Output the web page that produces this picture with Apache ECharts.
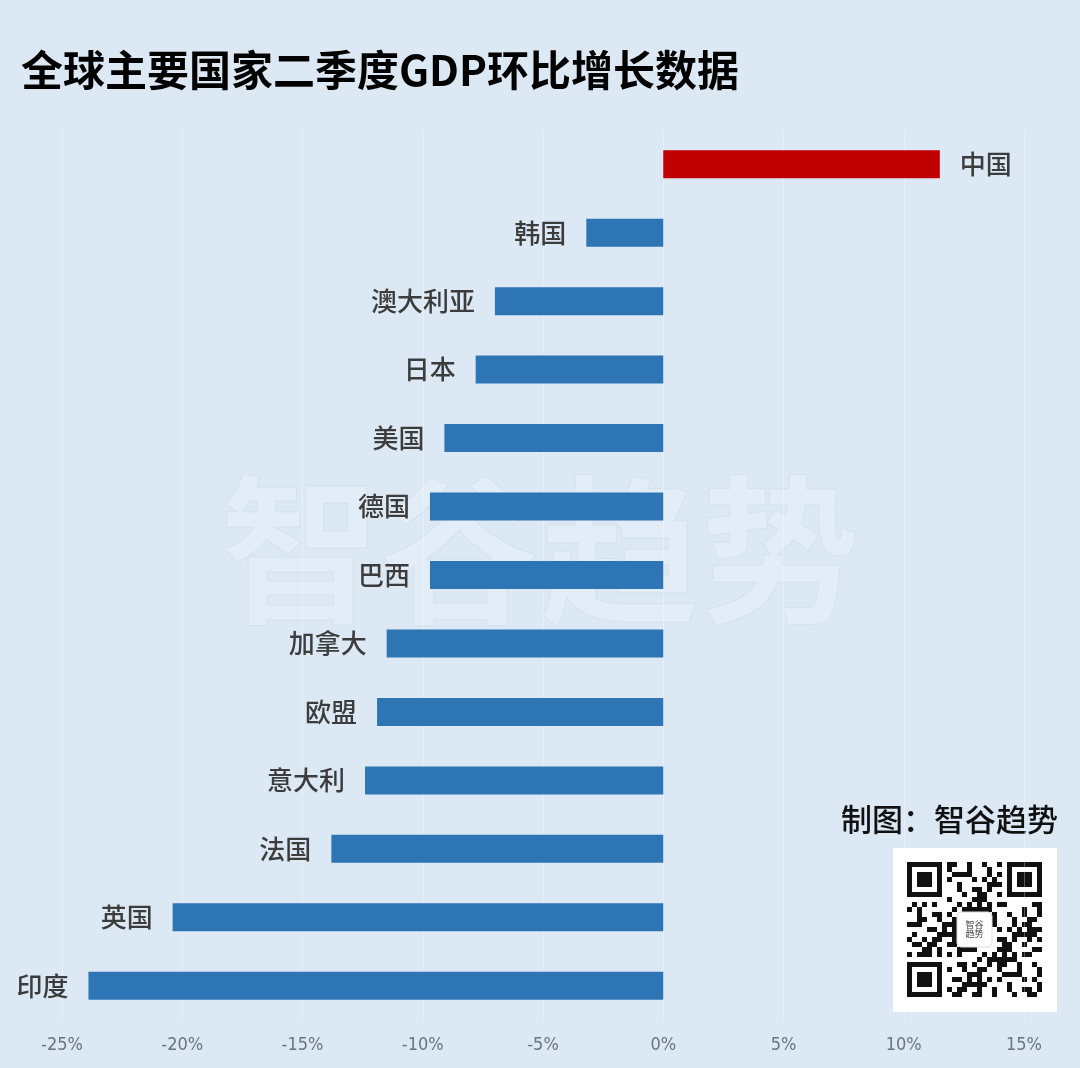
<!DOCTYPE html>
<html><head><meta charset="utf-8">
<script src="https://cdn.jsdelivr.net/npm/echarts@6/dist/echarts.min.js"></script>
<style>html,body{margin:0;padding:0;background:#dce9f5;}#c{width:1080px;height:1068px;}</style>
</head><body><div id="c"></div>
<script>
const categories = ['中国','韩国','澳大利亚','日本','美国','德国','巴西','加拿大','欧盟','意大利','法国','英国','印度'];
const growth = [11.5,-3.2,-7.0,-7.8,-9.1,-9.7,-9.7,-11.5,-11.9,-12.4,-13.8,-20.4,-23.9];
const titleText = '全球主要国家二季度GDP环比增长数据';
const creditText = '制图：智谷趋势';
const watermarkText = '智谷趋势';

const chart = echarts.init(document.getElementById('c'));

// decorative QR-like block
const qrX = 893, qrY = 848, qrS = 164;
const qrGraphics = [{type:'rect', shape:{x:qrX,y:qrY,width:qrS,height:qrS}, style:{fill:'#ffffff'}}];
const mod = 5, n = 27, ox = qrX + 14, oy = qrY + 14;
function finder(cx, cy){
  qrGraphics.push({type:'rect', shape:{x:ox+cx*mod,y:oy+cy*mod,width:7*mod,height:7*mod}, style:{fill:'#111'}});
  qrGraphics.push({type:'rect', shape:{x:ox+(cx+1)*mod,y:oy+(cy+1)*mod,width:5*mod,height:5*mod}, style:{fill:'#fff'}});
  qrGraphics.push({type:'rect', shape:{x:ox+(cx+2)*mod,y:oy+(cy+2)*mod,width:3*mod,height:3*mod}, style:{fill:'#111'}});
}
for (let i=0;i<n;i++) for (let j=0;j<n;j++){
  const inF = (i<8&&j<8)||(i>=n-8&&j<8)||(i<8&&j>=n-8);
  const inC = i>=10&&i<=16&&j>=10&&j<=16;
  if (inF||inC) continue;
  if (((i*7 + j*13 + (i*j)%5) % 3) === 0 || ((i+j*3)%7===1))
    qrGraphics.push({type:'rect', shape:{x:ox+i*mod,y:oy+j*mod,width:mod,height:mod}, style:{fill:'#111'}});
}
finder(0,0); finder(n-7,0); finder(0,n-7);
qrGraphics.push({type:'rect', shape:{x:ox+10*mod,y:oy+10*mod,width:7*mod,height:7*mod,r:4}, style:{fill:'#fff',stroke:'#ddd'}});
qrGraphics.push({type:'text', x:ox+13.5*mod, y:oy+13.5*mod, style:{text:'智谷\n趋势', font:'9px "Noto Sans CJK SC"', fill:'#444', align:'center', verticalAlign:'middle'}});

chart.setOption({
  backgroundColor:'#dce9f5',
  animation:false,
  title:{text:titleText, left:16, top:44, textStyle:{fontFamily:'"Noto Sans CJK SC"', fontSize:42, fontWeight:'bold', color:'#000'}},
  grid:{left:62, right:56, top:130, bottom:48, containLabel:false},
  xAxis:{type:'value', min:-25, max:15, interval:5,
    axisLine:{show:false}, axisTick:{show:false},
    splitLine:{show:true, lineStyle:{color:'rgba(255,255,255,0.3)', width:1}},
    axisLabel:{formatter:'{value}%', color:'#6b7280', fontSize:18, fontFamily:'"Liberation Sans Narrow","DejaVu Sans Condensed",sans-serif', margin:16}},
  yAxis:{type:'category', data:categories, inverse:true, show:false},
  graphic:[
    {type:'text', left:'center', top:470, z:0, style:{text:watermarkText, font:'bold 160px "Noto Sans CJK SC"', fill:'rgba(255,255,255,0.2)', stroke:'rgba(190,200,210,0.3)', lineWidth:1}},
    {type:'text', right:22, top:804, style:{text:creditText, font:'500 31px "Noto Sans CJK SC"', fill:'#111'}},
    {type:'group', children:qrGraphics}
  ],
  series:[{
    type:'bar', barWidth:28,
    data:growth.map((v,i)=>({value:v, itemStyle:{color: v>0 ? '#c00000' : '#2e75b6'},
      label:{position: v>0 ? 'right' : 'left'}})),
    label:{show:true, formatter:p=>categories[p.dataIndex], distance:20, fontSize:26, color:'#3c3c3c', fontWeight:500, fontFamily:'"Noto Sans CJK SC"'}
  }]
});
</script></body></html>
